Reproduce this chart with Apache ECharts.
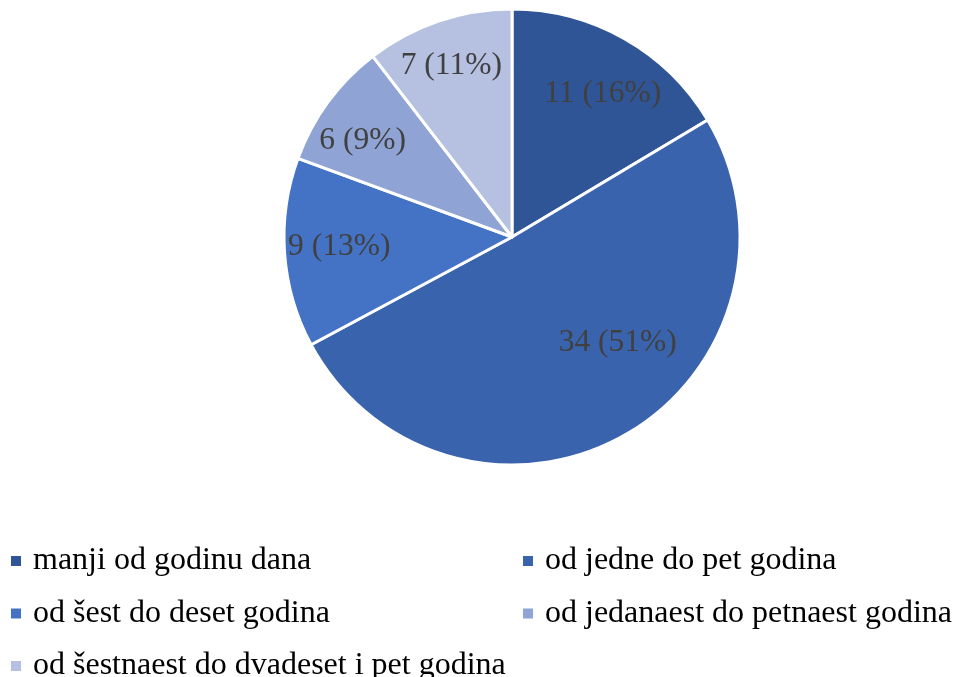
<!DOCTYPE html>
<html>
<head>
<meta charset="utf-8">
<script src="https://cdn.jsdelivr.net/npm/echarts@6/dist/echarts.min.js"></script>
<style>html,body{margin:0;padding:0;background:#fff}#c{width:955px;height:677px}</style>
</head>
<body>
<div id="c"></div>
<script>
const categories = ["manji od godinu dana","od jedne do pet godina","od šest do deset godina","od jedanaest do petnaest godina","od šestnaest do dvadeset i pet godina"];
const values = [11, 34, 9, 6, 7];
const percentLabels = ["16%", "51%", "13%", "9%", "11%"];
const colors = ["#2F5597", "#3A63AD", "#4472C4", "#8FA4D4", "#B6C1E2"];
const labelOffsets = [[33,-41],[48,4],[-56,2],[-55,-27],[-23,-61]];

const chart = echarts.init(document.getElementById('c'), null, {renderer:'canvas'});
const font = "'Liberation Serif','Times New Roman',serif";
const legendBase = {
  orient: 'vertical', itemWidth: 12, itemHeight: 12, itemGap: 20.5, height: 200,
  icon: 'rect', selectedMode: false,
  textStyle: {fontFamily: font, fontSize: 32, color: '#000', lineHeight: 31, padding:[0,0,0,6]}
};
chart.setOption({
  animation: false,
  color: colors,
  legend: [
    Object.assign({}, legendBase, {left: 4, top: 540, data: [categories[0], categories[2], categories[4]]}),
    Object.assign({}, legendBase, {left: 516, top: 540, data: [categories[1], categories[3]]})
  ],
  series: [{
    type: 'pie',
    center: [512, 237],
    radius: [0, 228],
    startAngle: 90,
    clockwise: true,
    avoidLabelOverlap: false,
    emphasis: {disabled: true},
    itemStyle: {borderColor: '#fff', borderWidth: 3},
    label: {position: 'inside', fontFamily: font, fontSize: 31.5, color: '#404040'},
    labelLine: {show: false},
    data: categories.map((n, i) => ({
      name: n, value: values[i],
      label: {offset: labelOffsets[i], formatter: values[i] + ' (' + percentLabels[i] + ')'}
    }))
  }]
});
</script>
</body>
</html>
